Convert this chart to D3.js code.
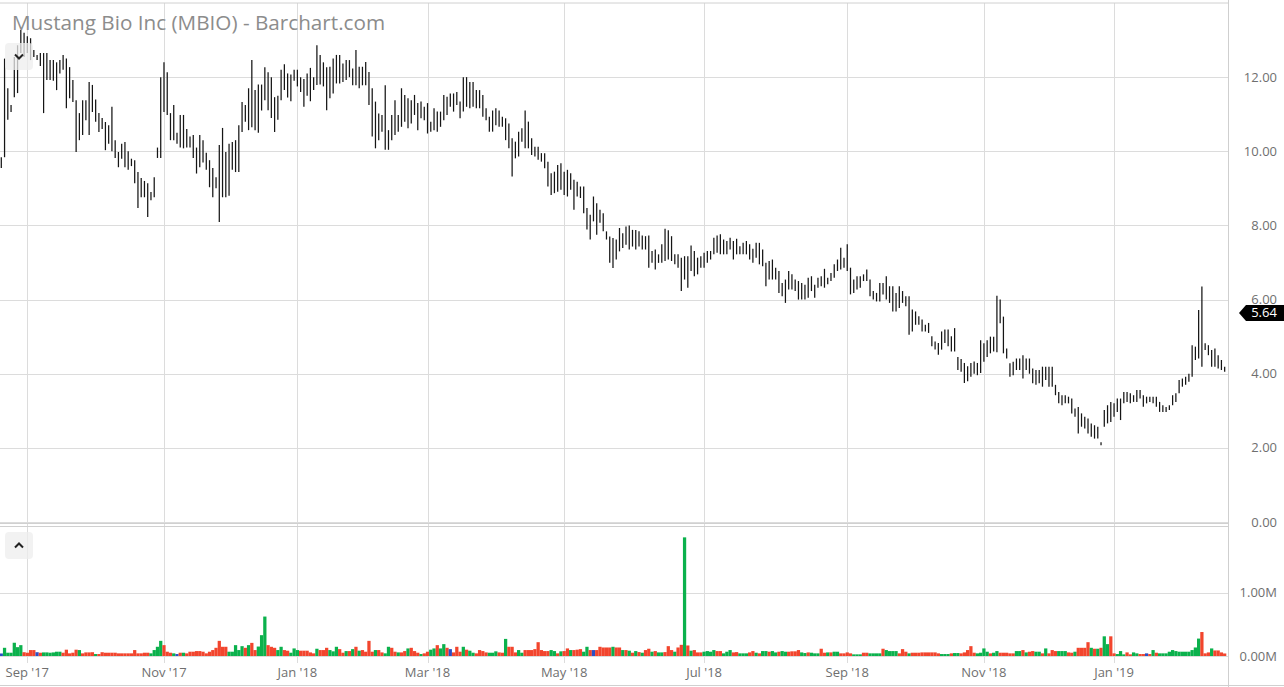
<!DOCTYPE html>
<html><head><meta charset="utf-8">
<script src="https://cdn.jsdelivr.net/npm/d3@7"></script>
<style>body{margin:0;background:#fff;}svg{display:block;}</style>
</head><body>
<svg id="c" width="1284" height="687"></svg>
<script>
// ---- categories: trading days from Aug 22 2017 ----
const startDate = "2017-08-22";
const barCount = 377;
const holidays = ["2017-09-04","2017-11-23","2017-12-25","2018-01-01","2018-01-15","2018-02-19","2018-03-30","2018-05-28","2018-07-04","2018-09-03","2018-11-22","2018-12-05","2018-12-25","2019-01-01","2019-01-21","2019-02-18"];
const tickDates = ["2017-09-01","2017-11-01","2018-01-02","2018-03-01","2018-05-01","2018-07-02","2018-09-04","2018-11-01","2019-01-02"];
const tickLabels = ["Sep '17","Nov '17","Jan '18","Mar '18","May '18","Jul '18","Sep '18","Nov '18","Jan '19"];
const priceTicks = [0,2,4,6,8,10,12];
const volTicks = [0,1];
const lastPrice = 5.64;

// ---- series: daily high / low (USD) ----
const high = [9.84,12.5,11.7,11.25,12.54,12.86,13.27,13.2,13.1,13.05,12.73,12.6,12.65,12.65,12.65,12.46,12.46,12.4,12.46,12.6,
12.5,12.27,11.92,11.38,11.03,11.38,11.38,11.87,11.79,11.4,11.03,10.9,10.79,10.7,11.2,10.3,9.98,10.2,10.25,10.0,
9.8,9.76,9.44,9.28,9.2,9.14,8.9,9.3,10.1,12.0,12.4,12.13,11.03,11.25,10.5,10.98,10.98,10.6,10.4,10.44,
10.1,10.44,10.3,9.96,9.76,9.55,9.3,10.17,10.63,9.98,10.2,10.25,10.3,10.7,11.33,11.25,11.7,12.46,11.65,11.8,
11.8,12.27,12.13,12.0,11.46,11.5,12.2,12.35,12.1,12.07,12.2,12.2,12.0,11.95,12.1,12.25,12.0,12.86,12.6,12.4,
12.27,12.28,12.5,12.6,12.6,12.37,12.46,12.46,12.23,12.73,12.28,12.28,12.41,12.14,11.7,11.34,11.02,10.98,11.78,10.57,
10.98,11.38,10.98,11.7,11.52,11.43,11.38,11.52,11.3,11.34,11.2,11.3,10.8,11.16,11.07,11.07,11.52,11.47,11.56,11.56,
11.6,11.34,12.0,12.0,11.87,11.87,11.65,11.65,11.52,11.16,10.93,11.1,11.16,11.1,10.93,10.89,10.75,10.35,10.26,10.53,
10.62,11.1,10.8,10.35,10.12,10.12,9.95,9.95,9.72,9.41,9.45,9.63,9.68,9.45,9.5,9.41,9.23,9.18,9.05,9.05,
8.47,8.29,8.78,8.6,8.42,8.33,7.84,7.7,7.66,7.62,7.93,7.79,7.97,8.0,7.88,7.88,7.84,7.73,7.71,7.73,
7.31,7.35,7.22,7.49,7.91,7.87,7.71,7.22,7.22,7.13,7.17,7.17,7.46,7.31,7.13,7.17,7.26,7.31,7.31,7.67,
7.73,7.76,7.62,7.58,7.67,7.58,7.64,7.44,7.53,7.58,7.49,7.37,7.53,7.53,7.35,6.99,7.04,7.08,6.86,6.77,
6.45,6.54,6.77,6.68,6.54,6.5,6.45,6.4,6.59,6.63,6.4,6.59,6.63,6.83,6.59,6.72,6.95,7.08,7.4,7.13,
7.49,6.86,6.54,6.63,6.63,6.68,6.81,6.54,6.23,6.18,6.45,6.45,6.63,6.36,6.36,6.18,6.36,6.23,6.09,6.09,
5.73,5.68,5.55,5.46,5.32,5.37,5.01,4.87,4.83,5.14,5.19,5.19,5.01,5.23,4.45,4.4,4.29,4.2,4.29,4.33,
4.29,4.9,4.82,4.9,5.0,5.0,6.1,6.0,5.54,4.68,4.28,4.32,4.41,4.41,4.5,4.41,4.41,4.14,4.1,4.1,
4.19,4.19,4.19,4.19,3.7,3.51,3.42,3.42,3.38,3.33,3.06,3.1,2.93,2.84,2.79,2.66,2.61,2.57,2.15,3.02,
3.15,3.24,3.2,3.33,3.33,3.51,3.51,3.47,3.42,3.56,3.56,3.42,3.38,3.38,3.38,3.38,3.24,3.15,3.1,3.15,
3.42,3.47,3.83,3.87,3.92,4.0,4.77,4.73,5.72,6.35,4.82,4.77,4.64,4.68,4.5,4.37,4.19];
const low = [9.55,9.84,10.85,11.06,11.46,11.57,12.65,12.54,12.65,12.46,12.54,12.46,12.3,11.03,11.92,11.92,11.9,11.65,12.1,12.2,
11.16,11.43,11.33,9.98,10.3,10.44,10.84,10.44,11.06,10.8,10.52,10.6,10.03,10.2,10.0,9.82,9.57,9.8,9.57,9.5,
9.6,9.14,8.47,8.76,8.76,8.23,8.68,8.76,9.82,9.82,11.06,10.98,10.3,10.3,10.2,10.1,10.08,10.1,10.1,9.82,
9.4,9.57,9.7,9.5,9.03,8.76,9.0,8.09,8.76,8.76,8.8,9.5,9.44,9.44,10.52,10.8,10.57,10.65,10.57,10.5,
11.1,11.38,11.11,10.9,10.52,10.85,11.38,11.65,11.45,11.35,11.9,11.75,11.6,11.2,11.5,11.35,11.65,11.79,11.8,11.75,
11.11,11.43,11.56,11.83,11.83,11.87,11.92,12.0,11.78,11.78,11.7,11.78,11.78,11.25,10.4,10.08,10.3,10.53,10.04,10.04,
10.3,10.44,10.53,10.66,10.8,10.62,10.75,10.98,10.57,10.89,10.84,10.48,10.53,10.57,10.53,10.66,10.84,10.98,11.2,11.07,
11.25,10.89,11.07,11.2,11.16,11.2,11.16,11.16,10.93,10.84,10.53,10.53,10.7,10.66,10.66,10.3,10.08,9.32,9.81,9.86,
10.26,10.08,10.08,9.9,9.86,9.77,9.72,9.54,9.05,8.82,8.87,8.91,8.96,8.82,8.78,8.96,8.42,8.78,8.74,8.33,
7.89,7.62,8.11,7.75,8.07,7.84,7.62,6.99,6.85,7.08,7.3,7.39,7.48,7.35,7.43,7.35,7.43,7.35,7.35,6.86,
6.99,6.81,6.99,6.99,7.04,7.08,7.04,6.95,6.86,6.23,6.54,6.32,6.77,6.63,6.68,6.86,6.86,6.99,7.08,7.22,
7.26,7.22,7.22,7.22,7.35,7.08,7.22,7.22,7.22,7.22,7.08,6.99,7.13,6.95,6.9,6.36,6.54,6.54,6.54,6.18,
6.09,5.91,6.27,6.27,6.23,6.0,6.0,6.0,6.05,6.23,6.05,6.32,6.36,6.32,6.41,6.5,6.59,6.77,6.81,6.86,
6.77,6.14,6.18,6.27,6.32,6.5,6.5,6.09,6.0,5.95,5.95,6.14,6.0,5.91,5.68,5.68,5.77,5.91,5.82,5.05,
5.14,5.32,5.32,5.14,5.14,5.1,4.74,4.65,4.51,4.65,4.83,4.74,4.6,4.6,4.1,4.05,3.75,3.8,3.92,4.0,
3.96,4.02,4.32,4.45,4.55,4.6,4.58,5.36,4.55,4.41,3.92,3.96,4.1,4.1,3.87,4.1,4.0,3.74,3.7,3.74,
3.65,3.83,3.65,3.65,3.42,3.2,3.15,3.2,3.2,2.93,2.84,2.39,2.57,2.52,2.39,2.3,2.25,2.25,2.07,2.57,
2.66,2.7,2.84,2.97,2.75,3.2,3.24,3.2,3.24,3.24,3.33,3.11,3.2,3.24,3.2,3.11,2.97,2.97,2.97,3.02,
3.15,3.24,3.47,3.65,3.7,3.78,3.92,4.37,4.41,4.19,4.64,4.5,4.19,4.19,4.14,4.1,4.05];

// ---- series: daily volume (thousand shares) and direction (g up, r down, b unchanged) ----
const volume = [40,130,52,52,210,140,172,60,52,94,94,60,52,57,57,52,57,68,68,52,
100,42,52,100,94,42,57,57,60,31,31,60,52,52,52,52,42,42,42,42,
42,94,42,42,52,52,42,94,146,240,172,68,52,42,31,52,52,42,68,68,
78,78,68,42,68,94,130,240,146,146,68,68,172,94,156,130,172,208,94,150,
330,625,172,146,130,94,146,94,84,52,120,94,84,84,84,57,42,115,94,94,
130,94,74,146,109,52,78,78,109,146,84,94,68,240,68,94,94,57,42,146,
130,68,57,57,78,120,130,78,52,31,42,68,100,120,172,120,188,130,109,57,
146,68,146,100,84,52,42,94,78,57,52,52,74,57,52,271,146,146,57,94,
52,94,94,94,109,219,94,78,78,94,78,42,74,78,120,94,94,100,109,68,
146,94,94,94,146,135,135,135,146,135,135,94,94,84,52,78,62,52,94,115,
68,78,57,57,62,156,94,68,135,177,1880,167,84,94,57,57,68,78,68,94,
78,78,42,68,94,57,62,42,42,42,57,78,52,42,78,78,68,78,57,68,
78,68,68,74,74,94,57,47,57,52,42,42,115,52,57,57,68,68,42,42,
57,42,26,26,26,52,52,42,42,42,42,115,94,78,78,78,42,109,68,42,
52,52,52,57,57,57,57,57,42,31,31,31,42,47,47,42,57,94,156,52,
42,52,120,68,42,52,78,52,52,52,42,42,78,78,94,57,68,78,68,68,
42,120,42,94,78,78,78,78,57,52,68,130,130,130,219,130,115,115,130,312,
188,312,42,31,78,26,57,26,57,42,31,31,42,31,94,52,42,42,42,68,
94,78,68,68,68,68,94,135,276,380,42,57,120,88,88,57,40];
const direction = "bggggggrrrrbrggggggr"+"rrrrgrrrrgrrrrrrrrrr"+"rrrrrrggggrrrgbrgrrr"+"rrrrrrrrrrgggggrgrrg"+
"ggrrrggrrgggrrrrrgrr"+"rgggrrgrgrgrrrrgrrgg"+"rrgrrgrrrgrrggrggrbr"+"rrgrggrrrrgggrrgrrrg"+
"grrrrrrrrggrgrrgrrrg"+"grbrrrrrgrrgrgrgrgrr"+"grggrrrgrrgrgrrrgggg"+"rrgggrrgggrrgrggrggr"+
"ggrrrrggrgggrrgrggrr"+"rrgggrrggggrggggrrrg"+"rrrrrrrrrgggrggrrrrr"+"ggggrggrrrrrggrgrrgg"+
"rgrrrgggrrgrrrrgrgrg"+"grrgggrrggrrbrgrgggg"+"gggggggggrrrgrrrr";

// ---- drawing ----
const svg = d3.select("#c");
const W = 1284, H = 687;
const plotRight = 1228;
const gridColor = "#dcdcdc";
const textColor = "#6f6f6f";
const font = "'Open Sans', 'Noto Sans', sans-serif";

// trading calendar
const parse = d3.utcParse("%Y-%m-%d"), fmt = d3.utcFormat("%Y-%m-%d");
const hol = new Set(holidays);
const dates = [];
for (let d = parse(startDate); dates.length < barCount; d = d3.utcDay.offset(d, 1)) {
  const wd = d.getUTCDay();
  if (wd === 0 || wd === 6 || hol.has(fmt(d))) continue;
  dates.push(fmt(d));
}

const x = d3.scaleBand().domain(dates).range([-0.33, 1226.3]).padding(0);
const xc = d => x(d) + x.bandwidth() / 2;
const yP = d3.scaleLinear().domain([0, 14]).range([522, 3]);
const yV = d3.scaleLinear().domain([0, 2.06]).range([656, 526]);

const g = svg.append("g");

// horizontal grid - price
g.selectAll("line.hp").data(priceTicks).join("line")
  .attr("x1", 0).attr("x2", plotRight)
  .attr("y1", d => Math.round(yP(d)) + 0.5).attr("y2", d => Math.round(yP(d)) + 0.5)
  .attr("stroke", gridColor).attr("stroke-width", 1);
// horizontal grid - volume
g.selectAll("line.hv").data(volTicks).join("line")
  .attr("x1", 0).attr("x2", plotRight)
  .attr("y1", d => Math.round(yV(d)) + 0.5).attr("y2", d => Math.round(yV(d)) + 0.5)
  .attr("stroke", gridColor).attr("stroke-width", 1);
// vertical grid
g.selectAll("line.v").data(tickDates).join("line")
  .attr("x1", d => Math.round(xc(d)) + 0.5).attr("x2", d => Math.round(xc(d)) + 0.5)
  .attr("y1", 3).attr("y2", 663)
  .attr("stroke", gridColor).attr("stroke-width", 1);

// frame lines
const frame = [[0,3,plotRight,3],[0,523.5,plotRight,523.5],[0,526.5,plotRight,526.5],[0,685.5,W,685.5]];
g.selectAll("line.f").data(frame).join("line")
  .attr("x1", d => d[0]).attr("y1", d => d[1]).attr("x2", d => d[2]).attr("y2", d => d[3])
  .attr("stroke", "#d0d0d0").attr("stroke-width", 1);
g.append("line").attr("x1", plotRight + 0.5).attr("x2", plotRight + 0.5).attr("y1", 0).attr("y2", H)
  .attr("stroke", "#cfcfcf").attr("stroke-width", 1);

// volume bars
const volColor = {g: "#0bb14c", r: "#f2452d", b: "#2b4fc6"};
const vols = dates.map((d, i) => ({d, v: volume[i] / 1000, c: direction[i] || "g"}));
g.append("g").selectAll("rect").data(vols).join("rect")
  .attr("x", d => x(d.d)).attr("width", x.bandwidth())
  .attr("y", d => yV(d.v)).attr("height", d => yV(0) - yV(d.v))
  .attr("fill", d => volColor[d.c]);

// price HL bars
const bars = dates.map((d, i) => ({d, h: high[i], l: low[i]}));
g.append("g").selectAll("line").data(bars).join("line")
  .attr("x1", d => xc(d.d)).attr("x2", d => xc(d.d))
  .attr("y1", d => yP(d.h)).attr("y2", d => yP(d.l))
  .attr("stroke", "#151515").attr("stroke-width", 1.25);

// right axis labels
g.selectAll("text.py").data(priceTicks).join("text")
  .attr("x", 1277).attr("y", d => yP(d) + 4.5)
  .attr("text-anchor", "end").attr("font-family", font).attr("font-size", 13)
  .attr("fill", textColor).text(d => d.toFixed(2));
g.selectAll("text.vy").data(volTicks).join("text")
  .attr("x", 1277).attr("y", d => yV(d) + 4.5)
  .attr("text-anchor", "end").attr("font-family", font).attr("font-size", 13)
  .attr("fill", textColor).text(d => d.toFixed(2) + "M");

// bottom axis labels
g.selectAll("text.xl").data(tickDates).join("text")
  .attr("x", d => xc(d)).attr("y", 677)
  .attr("text-anchor", "middle").attr("font-family", font).attr("font-size", 13)
  .attr("fill", textColor).text((d, i) => tickLabels[i]);

// last price marker
const ly = yP(lastPrice);
g.append("path")
  .attr("d", `M1239,${ly} L1246,${ly-8} L1284,${ly-8} L1284,${ly+8} L1246,${ly+8} Z`)
  .attr("fill", "#000");
g.append("text").attr("x", 1264).attr("y", ly + 4.5).attr("text-anchor", "middle")
  .attr("font-family", font).attr("font-size", 13).attr("fill", "#fff").text(lastPrice.toFixed(2));

// title
g.append("text").attr("x", 12).attr("y", 30)
  .attr("font-family", font).attr("font-size", 20.7).attr("fill", "#8c8c8c")
  .text("Mustang Bio Inc (MBIO) - Barchart.com");

// collapse buttons
const btns = [{y: 43, up: false}, {y: 532, up: true}];
btns.forEach(b => {
  g.append("rect").attr("x", 5).attr("y", b.y).attr("width", 28).attr("height", 27).attr("rx", 4)
    .attr("fill", "rgba(238,238,238,0.75)");
  const cy = b.y + 13.5;
  const p = b.up ? `M15,${cy+2} L19,${cy-2} L23,${cy+2}` : `M15,${cy-2} L19,${cy+2} L23,${cy-2}`;
  g.append("path").attr("d", p).attr("fill", "none").attr("stroke", "#222").attr("stroke-width", 2);
});
</script>
</body></html>
